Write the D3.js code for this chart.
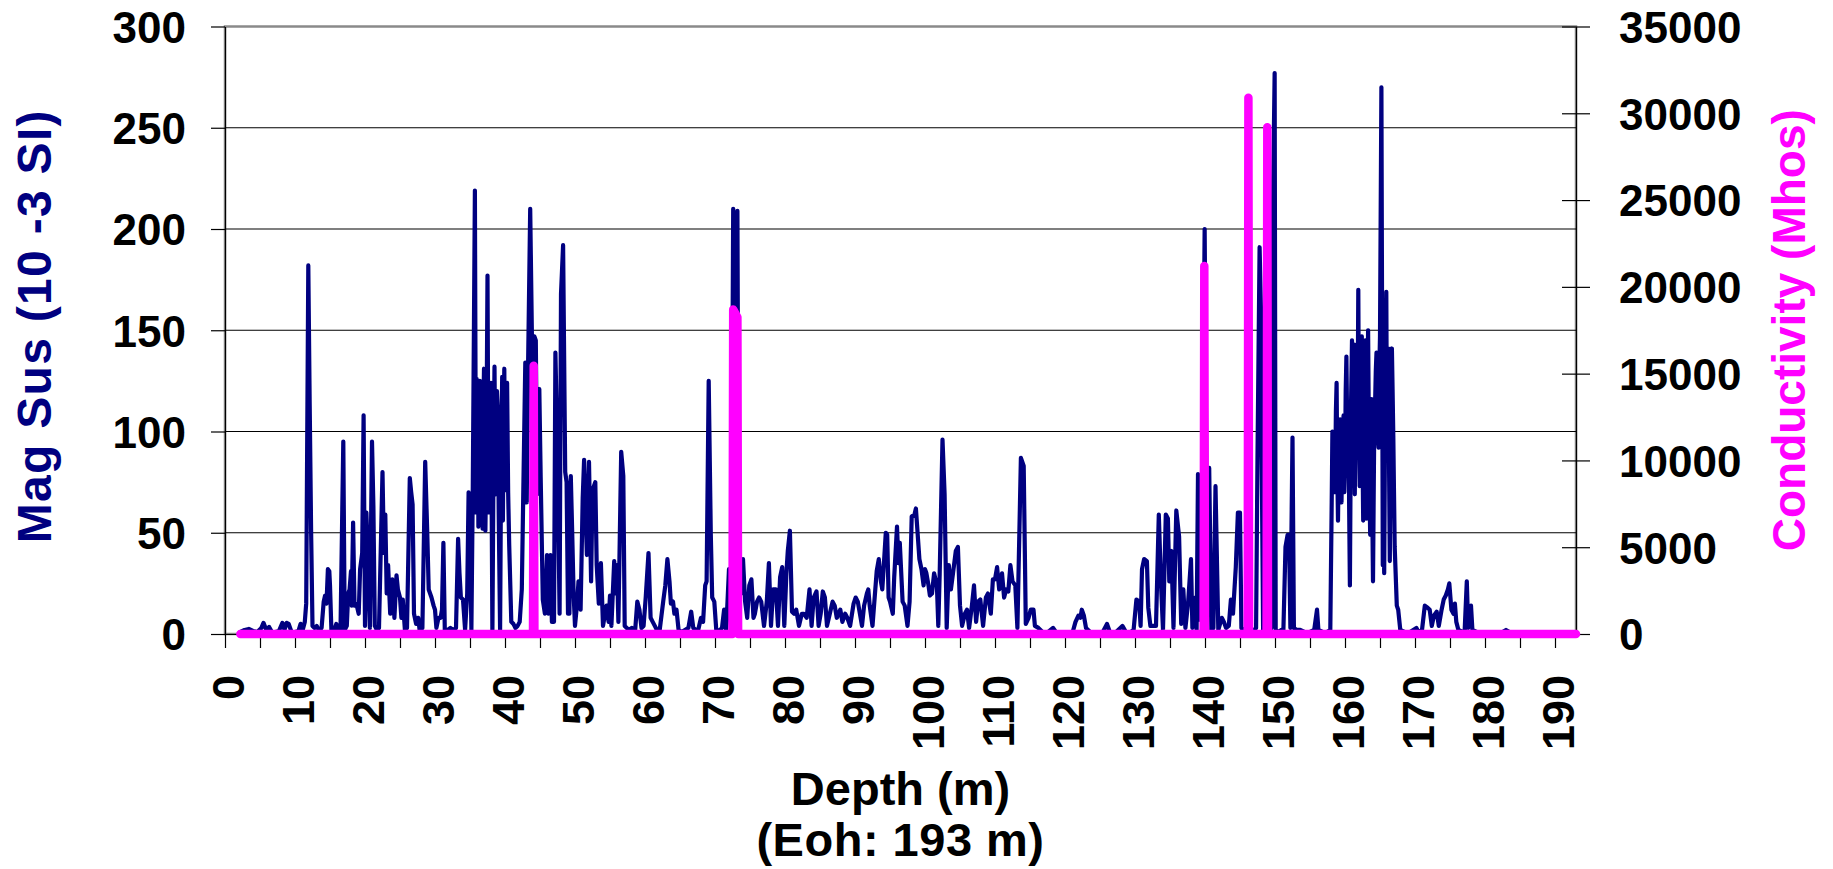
<!DOCTYPE html>
<html>
<head>
<meta charset="utf-8">
<title>Mag Sus and Conductivity vs Depth</title>
<script src="https://cdn.jsdelivr.net/npm/d3@7/dist/d3.min.js"></script>
<style>
  html, body { margin: 0; padding: 0; background: #fff; }
  svg { display: block; font-family: "Liberation Sans", Arial, Helvetica, sans-serif; font-weight: bold; }
</style>
</head>
<body>
<svg id="chart" width="1833" height="869"></svg>
<script>
// ---- Downhole log: magnetic susceptibility (10^-3 SI), depth in metres ----
const magDepth = [
  2.2, 2.8, 3.4, 4.0, 4.6, 5.2, 5.5, 5.9, 6.3, 6.7,
  7.2, 7.7, 8.2, 8.5, 8.8, 9.1, 9.5, 10.0, 10.5, 10.8,
  11.1, 11.4, 11.6, 11.9, 12.1, 12.3, 12.5, 12.8, 13.1, 13.4,
  13.8, 14.1, 14.3, 14.5, 14.7, 14.9, 15.0, 15.2, 15.6, 15.9,
  16.2, 16.5, 16.9, 17.1, 17.4, 17.6, 17.8, 18.0, 18.1, 18.3,
  18.5, 18.7, 18.9, 19.1, 19.3, 19.6, 19.8, 20.0, 20.2, 20.4,
  20.7, 21.0, 21.2, 21.4, 21.7, 22.0, 22.5, 22.7, 22.9, 23.1,
  23.3, 23.6, 23.9, 24.2, 24.5, 24.7, 25.0, 25.2, 25.4, 25.7,
  26.0, 26.4, 26.6, 26.8, 27.0, 27.3, 27.6, 27.8, 28.2, 28.6,
  28.9, 29.1, 29.3, 29.5, 29.8, 30.0, 30.2, 30.5, 30.8, 31.0,
  31.2, 31.4, 31.8, 32.2, 32.6, 33.0, 33.3, 33.5, 33.7, 34.0,
  34.3, 34.6, 34.8, 35.0, 35.2, 35.4, 35.7, 35.85, 35.95, 36.05,
  36.1, 36.2, 36.3, 36.4, 36.5, 36.6, 36.7, 36.8, 36.9, 37.0,
  37.1, 37.2, 37.35, 37.5, 37.65, 37.8, 37.9, 38.0, 38.2, 38.35,
  38.5, 38.6, 38.7, 38.85, 39.0, 39.1, 39.3, 39.45, 39.6, 39.7,
  39.8, 39.9, 40.0, 40.1, 40.2, 40.3, 40.45, 40.6, 40.9, 41.2,
  41.5, 41.8, 42.1, 42.4, 42.6, 42.9, 43.1, 43.3, 43.6, 43.9,
  44.2, 44.4, 44.6, 44.9, 45.1, 45.4, 45.7, 46.0, 46.2, 46.5,
  46.7, 47.0, 47.2, 47.5, 47.8, 48.0, 48.3, 48.6, 48.8, 49.0,
  49.2, 49.4, 49.6, 49.8, 50.0, 50.3, 50.5, 50.8, 51.1, 51.3,
  51.5, 51.7, 52.0, 52.3, 52.5, 52.9, 53.1, 53.4, 53.7, 54.0,
  54.3, 54.5, 54.8, 55.0, 55.2, 55.6, 55.8, 56.0, 56.2, 56.6,
  56.9, 57.1, 57.4, 57.7, 58.1, 58.6, 58.9, 59.2, 59.5, 59.8,
  60.1, 60.5, 60.8, 61.1, 61.4, 61.7, 62.1, 62.6, 62.9, 63.2,
  63.5, 63.7, 64.0, 64.2, 64.5, 64.8, 65.2, 65.7, 66.2, 66.6,
  66.9, 67.3, 67.6, 68.0, 68.3, 68.6, 68.8, 69.1, 69.4, 69.6,
  69.9, 70.2, 70.7, 71.0, 71.3, 71.6, 72.0, 72.3, 72.6, 72.9,
  73.2, 73.4, 73.7, 74.0, 74.3, 74.6, 74.9, 75.2, 75.5, 75.7,
  76.0, 76.3, 76.6, 77.0, 77.4, 77.7, 78.0, 78.3, 78.7, 79.0,
  79.3, 79.6, 79.9, 80.2, 80.4, 80.7, 81.0, 81.3, 81.6, 82.0,
  82.4, 82.7, 83.1, 83.5, 83.8, 84.1, 84.5, 84.8, 85.1, 85.4,
  85.7, 86.0, 86.4, 86.8, 87.1, 87.4, 87.9, 88.2, 88.6, 88.9,
  89.3, 89.8, 90.1, 90.4, 90.7, 91.0, 91.3, 91.7, 91.9, 92.1,
  92.5, 92.9, 93.1, 93.4, 93.7, 93.9, 94.1, 94.4, 94.6, 94.8,
  95.0, 95.4, 95.6, 96.0, 96.2, 96.4, 96.8, 97.1, 97.5, 97.8,
  98.1, 98.5, 98.7, 99.0, 99.2, 99.5, 99.8, 100.0, 100.2, 100.5,
  100.7, 101.0, 101.3, 101.7, 101.9, 102.1, 102.5, 102.8, 103.1, 103.4,
  103.7, 104.0, 104.4, 104.7, 105.0, 105.3, 105.7, 106.0, 106.3, 106.7,
  107.0, 107.3, 107.6, 107.9, 108.3, 108.7, 109.0, 109.4, 109.7, 110.0,
  110.3, 110.6, 111.0, 111.3, 111.6, 111.9, 112.2, 112.5, 112.9, 113.2,
  113.7, 114.1, 114.4, 114.8, 115.1, 115.5, 115.7, 116.2, 116.8, 117.6,
  118.3, 118.7, 119.5, 120.4, 121.1, 121.5, 121.9, 122.2, 122.4, 122.7,
  123.0, 123.6, 124.5, 125.4, 126.0, 126.4, 127.3, 128.2, 128.7, 129.4,
  129.8, 130.2, 130.6, 130.8, 131.0, 131.3, 131.7, 131.9, 132.2, 132.6,
  133.0, 133.4, 133.7, 134.0, 134.4, 134.7, 134.9, 135.2, 135.5, 135.9,
  136.3, 136.6, 136.9, 137.2, 137.6, 138.0, 138.2, 138.6, 138.8, 139.0,
  139.3, 139.6, 139.95, 140.3, 140.6, 140.9, 141.2, 141.5, 141.9, 142.4,
  142.7, 143.0, 143.4, 143.7, 144.0, 144.4, 144.7, 145.0, 145.2, 145.6,
  146.0, 146.5, 147.0, 147.3, 147.5, 147.8, 148.0, 148.1, 148.3, 148.7,
  149.2, 149.5, 149.6, 149.75, 149.95, 150.1, 150.5, 150.9, 151.2, 151.5,
  151.8, 152.0, 152.2, 152.5, 152.7, 153.1, 153.6, 154.2, 155.0, 155.6,
  156.0, 156.2, 156.8, 157.4, 157.9, 158.1, 158.2, 158.3, 158.45, 158.6,
  158.7, 158.8, 158.9, 159.0, 159.15, 159.3, 159.4, 159.5, 159.65, 159.8,
  159.9, 160.0, 160.1, 160.2, 160.35, 160.5, 160.6, 160.7, 160.85, 161.0,
  161.1, 161.2, 161.3, 161.4, 161.55, 161.7, 161.8, 161.9, 162.0, 162.1,
  162.25, 162.4, 162.5, 162.6, 162.75, 162.9, 163.0, 163.1, 163.2, 163.3,
  163.45, 163.6, 163.7, 163.8, 163.9, 164.0, 164.15, 164.3, 164.4, 164.5,
  164.65, 164.8, 164.9, 165.0, 165.2, 165.4, 165.5, 165.6, 165.75, 165.9,
  166.0, 166.1, 166.2, 166.3, 166.4, 166.55, 166.7, 166.8, 166.9, 167.0,
  167.1, 167.4, 167.6, 167.9, 168.5, 169.3, 170.2, 170.5, 171.0, 171.4,
  171.8, 172.1, 172.4, 172.7, 173.1, 173.4, 173.8, 174.1, 174.4, 174.7,
  174.9, 175.2, 175.5, 175.7, 175.9, 176.2, 176.8, 177.1, 177.4, 177.6,
  178.0, 178.2, 178.8, 179.5, 180.5, 181.5, 182.5, 183.0, 183.5, 184.5,
  186.0, 188.0, 190.0, 192.0, 193.0
];
const magSus = [
  1, 2, 2.5, 1.5, 1, 3, 5.5, 2, 3.5, 1,
  1, 1.5, 5.5, 2, 5.5, 5, 1, 1, 1.5, 5,
  2, 6, 15, 182, 113, 51, 4, 3, 4, 2,
  3, 16, 19, 15, 32, 31, 24, 2, 2, 5,
  2, 2, 95, 2, 4, 20, 22, 31, 14, 55,
  14, 15, 13, 10, 32, 40, 108, 4, 60, 40,
  3, 95, 63, 4, 2, 3, 80, 40, 59, 20,
  34, 10, 27, 8, 29, 22, 18, 8, 17, 2,
  3, 77, 70, 64, 10, 5, 8, 2, 3, 85,
  49, 22, 20, 18, 14, 12, 3, 8, 8, 12,
  45, 2, 2, 3, 2, 3, 47, 30, 18, 17,
  2, 20, 70, 50, 2, 73, 219, 60, 126, 70,
  118, 53, 100, 125, 62, 90, 115, 52, 110, 131,
  80, 51, 95, 177, 60, 73, 110, 124, 0, 80,
  132, 90, 69, 120, 108, 60, 2, 90, 127, 56,
  105, 131, 88, 71, 115, 124, 70, 44, 6, 5,
  3, 4, 6, 22, 67, 134, 65, 133, 210, 133,
  147, 145, 69, 121, 77, 17, 10, 39, 10, 39,
  6, 6, 139, 88, 10, 168, 192, 80, 75, 10,
  10, 78, 50, 20, 4, 15, 26, 12, 67, 86,
  60, 39, 85, 26, 71, 75, 34, 15, 35, 4,
  10, 14, 6, 19, 4, 36, 20, 34, 6, 90,
  78, 4, 3, 2, 3, 2, 16, 12, 3, 4,
  18, 40, 8, 6, 4, 2, 2, 16, 24, 37,
  26, 15, 16, 10, 12, 2, 1, 2, 3, 11,
  3, 2, 2, 8, 6, 24, 26, 125, 49, 18,
  16, 1, 2, 3, 12, 2, 32, 4, 210, 150,
  209, 30, 20, 37, 16, 8, 24, 27, 8, 10,
  16, 18, 16, 4, 16, 35, 4, 22, 22, 4,
  28, 33, 4, 30, 41, 51, 11, 10, 12, 4,
  10, 10, 8, 22, 4, 18, 21, 4, 10, 21,
  18, 4, 10, 16, 14, 8, 12, 6, 10, 8,
  4, 15, 18, 16, 10, 4, 14, 20, 22, 14,
  4, 22, 31, 37, 26, 22, 33, 50, 49, 18,
  16, 10, 28, 53, 35, 45, 16, 14, 4, 16,
  58, 59, 62, 47, 37, 32, 24, 32, 30, 24,
  19, 20, 30, 24, 4, 30, 96, 69, 3, 34,
  22, 30, 41, 43, 14, 4, 10, 12, 3, 14,
  24, 6, 16, 17, 4, 18, 20, 10, 27, 27,
  33, 22, 30, 18, 22, 21, 34, 26, 24, 3,
  87, 83, 5, 8, 12, 12, 4, 3, 1, 1,
  3, 1, 1, 1, 1, 6, 9, 8, 12, 9,
  3, 1, 1, 1, 5, 1, 1, 4, 1, 1,
  2, 17, 16, 4, 32, 37, 36, 13, 4, 4,
  4, 59, 26, 2, 59, 57, 26, 41, 3, 61,
  48, 5, 22, 3, 16, 37, 3, 18, 2, 79,
  7, 60, 200, 30, 82, 2, 3, 73, 2, 8,
  6, 3, 4, 17, 10, 33, 60, 60, 3, 2,
  2, 2, 2, 3, 88, 191, 159, 88, 2, 2,
  2, 3, 141, 224, 277, 2, 1, 2, 2, 43,
  49, 49, 3, 97, 3, 2, 2, 1, 1, 2,
  12, 2, 1, 1, 2, 65, 100, 93, 70, 77,
  110, 124, 80, 56, 95, 106, 75, 65, 100, 108,
  70, 82, 120, 137, 90, 108, 60, 24, 110, 145,
  100, 143, 95, 69, 120, 143, 110, 170, 100, 73,
  130, 147, 90, 56, 120, 145, 90, 57, 120, 150,
  80, 49, 95, 116, 60, 26, 90, 114, 130, 139,
  100, 92, 130, 147, 270, 34, 60, 30, 120, 169,
  88, 120, 141, 80, 36, 110, 141, 120, 98, 70,
  43, 14, 12, 2, 1, 1, 3, 1, 2, 14,
  13, 12, 4, 9, 11, 4, 12, 17, 19, 22,
  25, 12, 10, 15, 6, 2, 1, 2, 26, 3,
  14, 2, 1, 1, 1, 1, 1, 2, 1, 1,
  1, 1, 1, 1, 1
];

// ---- Conductivity (Mhos): flat at zero apart from a few sharp conductors ----
const condDepth = [2.2, 44.0, 44.1, 44.2, 72.5, 72.6, 73.2, 73.3, 139.8, 139.9, 140.0, 146.1, 146.2, 146.3, 148.8, 148.9, 149.0, 193.0];
const conductivity = [0, 0, 15450, 0, 0, 18700, 18250, 0, 0, 21200, 0, 0, 30900, 0, 0, 29200, 0, 0];

// ---- Axis ticks and labels ----
const depthLabels = [0, 10, 20, 30, 40, 50, 60, 70, 80, 90, 100, 110, 120, 130, 140, 150, 160, 170, 180, 190];
const magTicks = [0, 50, 100, 150, 200, 250, 300];
const condTicks = [0, 5000, 10000, 15000, 20000, 25000, 30000, 35000];

const NAVY = "#000080";
const MAGENTA = "#ff00ff";

const plot = { left: 225, right: 1576, top: 26.5, bottom: 634 };

const svg = d3.select("#chart");

const x = d3.scaleLinear().domain([0, 193]).range([plot.left, plot.right]);
const yMag = d3.scaleLinear().domain([0, 300]).range([plot.bottom, plot.top]);
const yCond = d3.scaleLinear().domain([0, 35000]).range([plot.bottom, plot.top]);

// plot-area frame
svg.append("rect")
  .attr("x", plot.left).attr("y", plot.top)
  .attr("width", plot.right - plot.left).attr("height", plot.bottom - plot.top)
  .attr("fill", "#fff").attr("stroke", "#8a8a8a").attr("stroke-width", 2.5);

// horizontal gridlines on the mag-sus scale
svg.append("g").selectAll("line")
  .data(magTicks.filter(v => v > 0 && v < 300))
  .join("line")
  .attr("x1", plot.left).attr("x2", plot.right)
  .attr("y1", d => yMag(d)).attr("y2", d => yMag(d))
  .attr("stroke", "#000").attr("stroke-width", 1.2);

// left axis (Mag Sus)
const leftAxis = svg.append("g")
  .attr("transform", `translate(${plot.left},0)`)
  .call(d3.axisLeft(yMag).tickValues(magTicks).tickSize(14).tickPadding(25).tickSizeOuter(0)
    .tickFormat(d3.format("d")));
leftAxis.select(".domain").attr("stroke", "#000").attr("stroke-width", 1.2);
leftAxis.selectAll(".tick line").attr("stroke", "#000").attr("stroke-width", 1.2);
leftAxis.selectAll(".tick text")
  .attr("fill", "#000").attr("font-size", 44).attr("font-family", null).attr("dy", "0.36em");

// right axis (Conductivity), ticks crossing the axis line
const rightAxis = svg.append("g")
  .attr("transform", `translate(${plot.right},0)`)
  .call(d3.axisRight(yCond).tickValues(condTicks).tickSize(14).tickPadding(29).tickSizeOuter(0)
    .tickFormat(d3.format("d")));
rightAxis.select(".domain").attr("stroke", "#000").attr("stroke-width", 1.2);
rightAxis.selectAll(".tick line").attr("x1", -14).attr("stroke", "#000").attr("stroke-width", 1.2);
rightAxis.selectAll(".tick text")
  .attr("fill", "#000").attr("font-size", 44).attr("font-family", null).attr("dy", "0.36em");

// bottom axis (Depth): tick every 5 m, label every 10 m
const depthTickMarks = d3.range(0, 191, 5);
const bottomAxis = svg.append("g")
  .attr("transform", `translate(0,${plot.bottom})`)
  .call(d3.axisBottom(x).tickValues(depthTickMarks).tickSize(14).tickSizeOuter(0)
    .tickFormat(d => depthLabels.includes(d) ? String(d) : ""));
bottomAxis.select(".domain").attr("stroke", "#000").attr("stroke-width", 1.2);
bottomAxis.selectAll(".tick line").attr("stroke", "#000").attr("stroke-width", 1.2);
bottomAxis.selectAll(".tick text")
  .attr("fill", "#000").attr("font-size", 45).attr("font-family", null)
  .attr("transform", "rotate(-90)")
  .attr("x", -41).attr("y", 0).attr("dy", "0.4em")
  .attr("text-anchor", "end");

// series lines
const idx = arr => d3.range(arr.length);

svg.append("path")
  .attr("d", d3.line().x(i => x(magDepth[i])).y(i => yMag(magSus[i]))(idx(magDepth)))
  .attr("fill", "none").attr("stroke", NAVY).attr("stroke-width", 4.2)
  .attr("stroke-linejoin", "round").attr("stroke-linecap", "round");

svg.append("path")
  .attr("d", d3.line().x(i => x(condDepth[i])).y(i => yCond(conductivity[i]))(idx(condDepth)))
  .attr("fill", "none").attr("stroke", MAGENTA).attr("stroke-width", 8.5)
  .attr("stroke-linejoin", "round").attr("stroke-linecap", "round");

// axis titles
svg.append("text")
  .attr("transform", `translate(51,${(plot.top + plot.bottom) / 2 - 4}) rotate(-90)`)
  .attr("text-anchor", "middle").attr("font-size", 48).attr("letter-spacing", 1.3).attr("fill", NAVY)
  .text("Mag Sus (10 -3 SI)");

svg.append("text")
  .attr("transform", `translate(1805,${(plot.top + plot.bottom) / 2}) rotate(-90)`)
  .attr("text-anchor", "middle").attr("font-size", 46).attr("fill", MAGENTA)
  .text("Conductivity (Mhos)");

svg.append("text")
  .attr("x", (plot.left + plot.right) / 2).attr("y", 805)
  .attr("text-anchor", "middle").attr("font-size", 47).attr("fill", "#000")
  .text("Depth (m)");

svg.append("text")
  .attr("x", (plot.left + plot.right) / 2).attr("y", 856)
  .attr("text-anchor", "middle").attr("font-size", 47).attr("letter-spacing", 0.5).attr("fill", "#000")
  .text("(Eoh: 193 m)");
</script>
</body>
</html>
